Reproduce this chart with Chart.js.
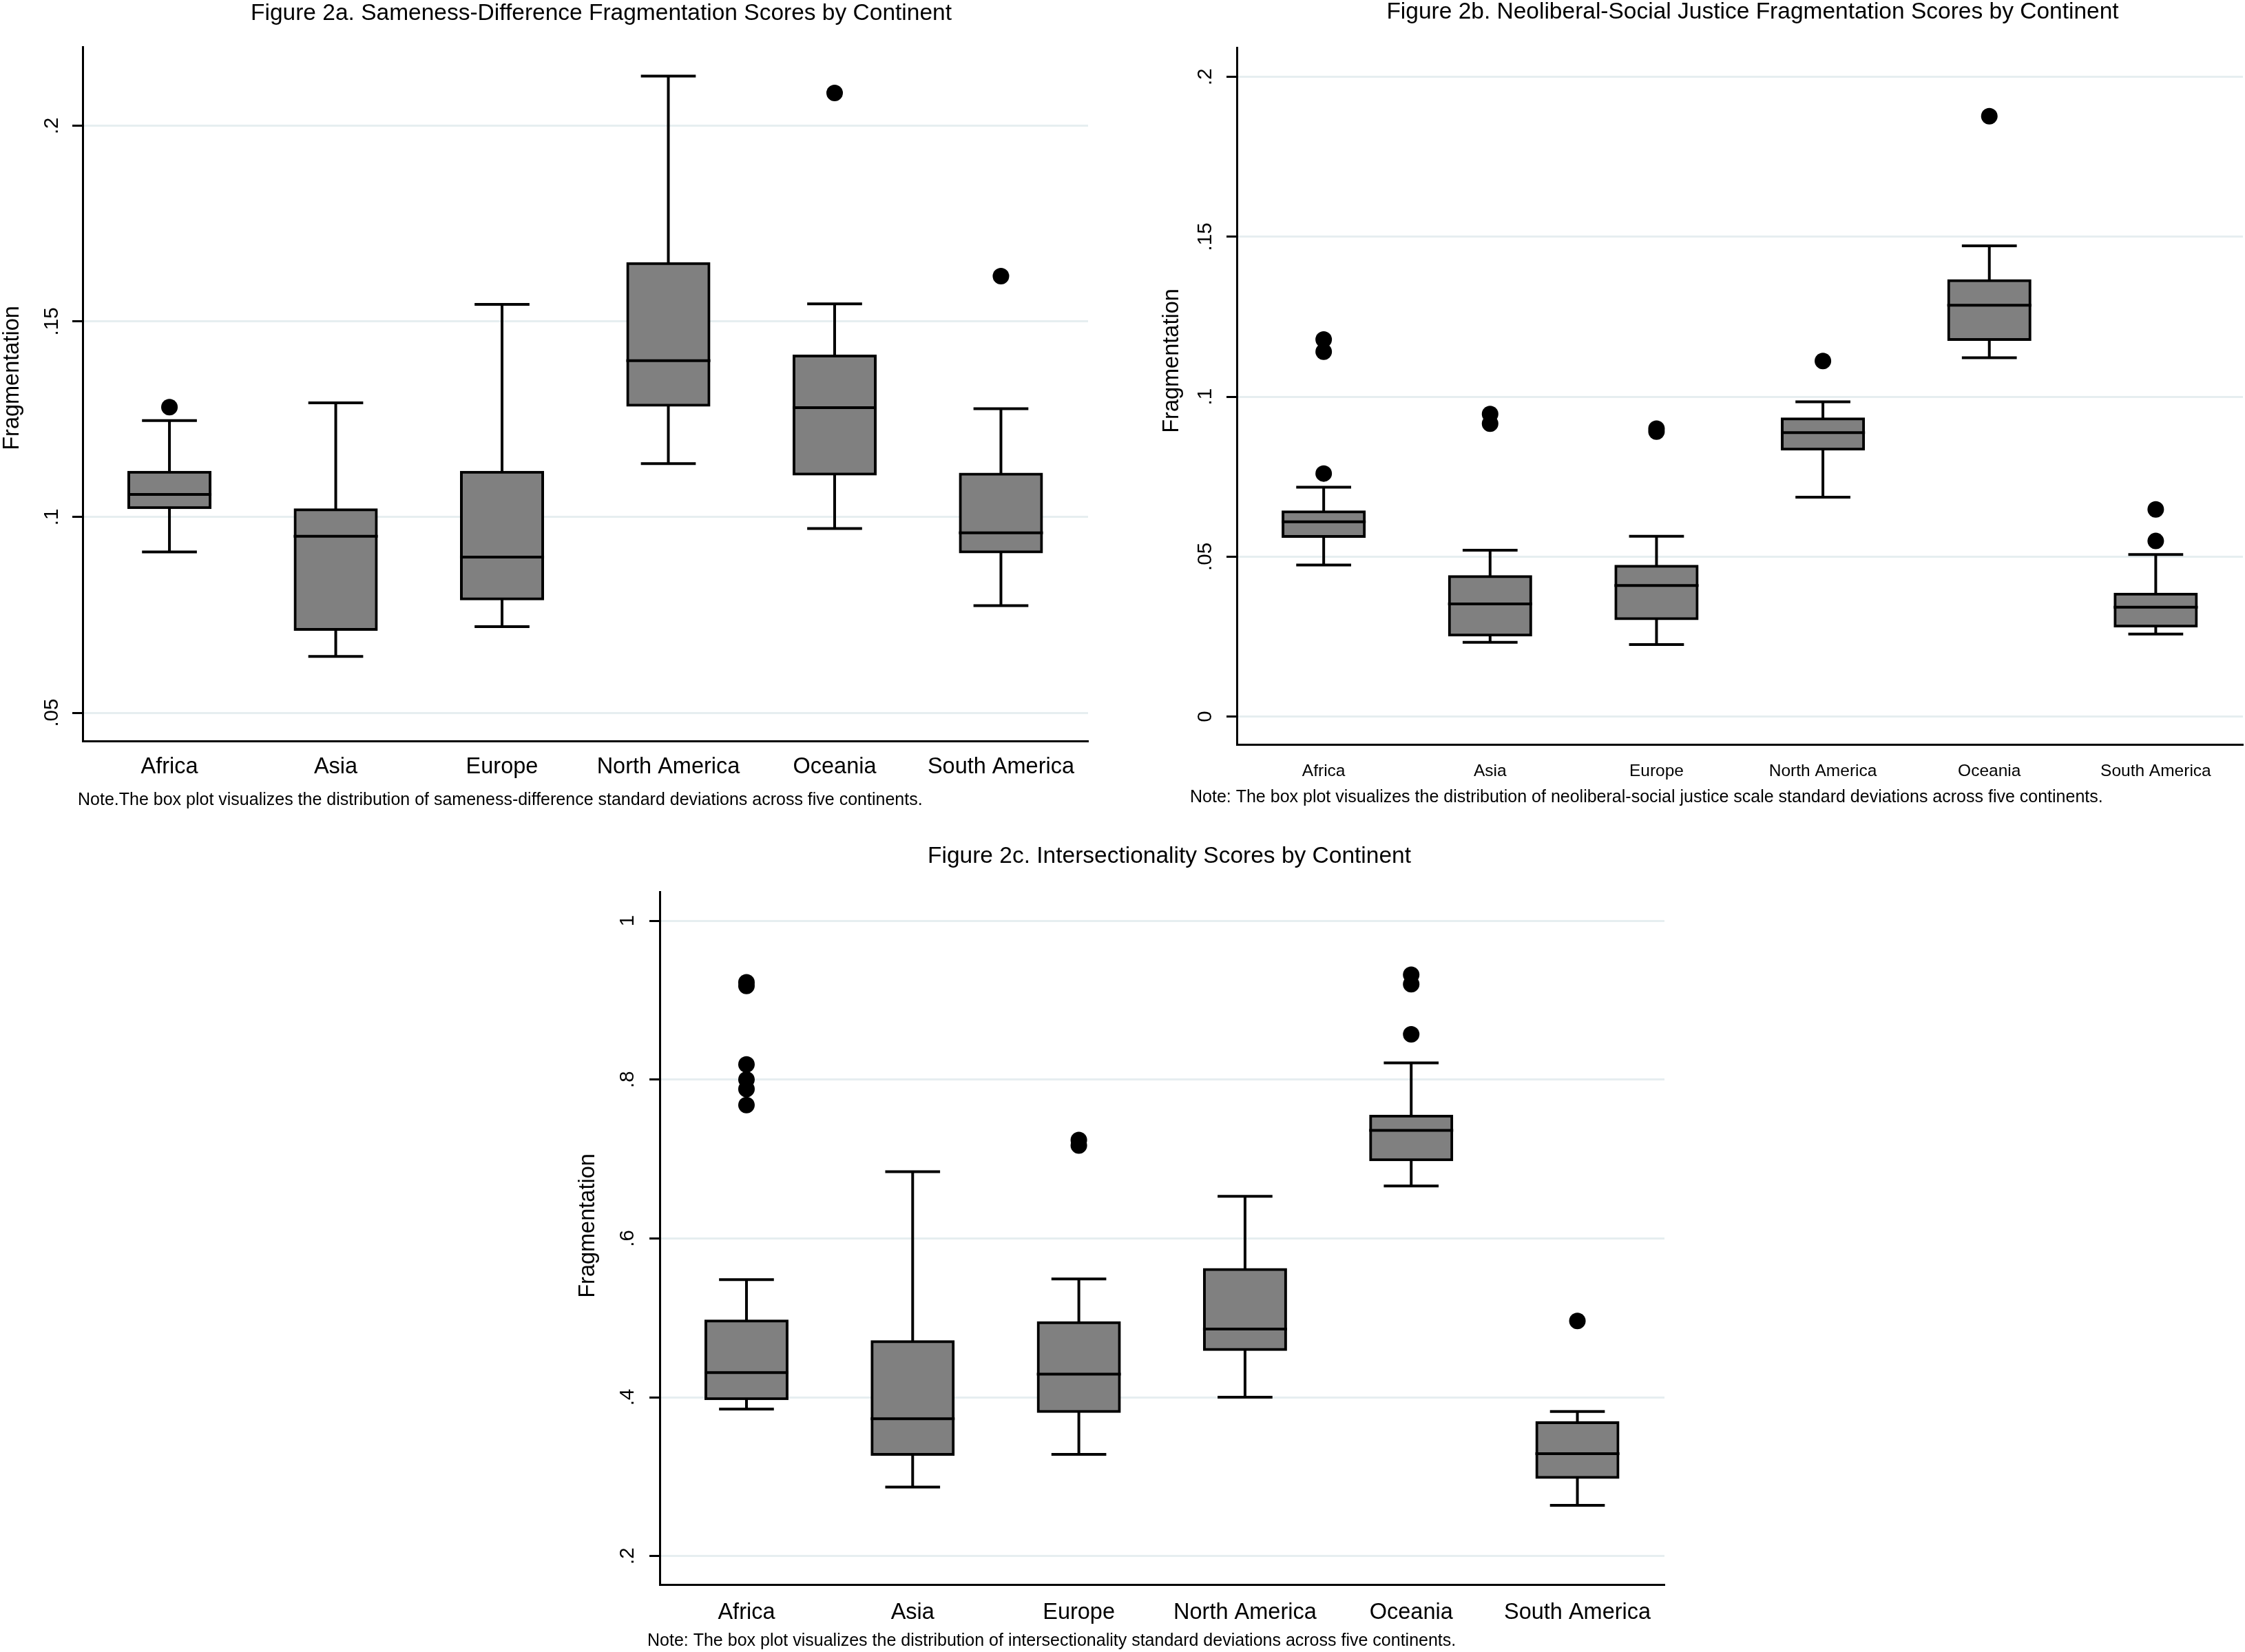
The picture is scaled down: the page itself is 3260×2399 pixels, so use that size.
<!DOCTYPE html>
<html>
<head>
<meta charset="utf-8">
<script src="https://cdn.jsdelivr.net/npm/chart.js@4.4.1/dist/chart.umd.min.js"></script>
<style>
html,body{margin:0;padding:0;background:#fff;overflow:hidden}
#page{position:relative;width:3260px;height:2399px;overflow:hidden;background:#fff}
#page canvas{position:absolute}
</style>
</head>
<body>
<div id="page">
<canvas id="fig2a"></canvas>
<canvas id="fig2b"></canvas>
<canvas id="fig2c"></canvas>
</div>
<script>
var continents=['Africa','Asia','Europe','North America','Oceania','South America'];
var groupRange=[-0.522,5.524];   // x extent in group units, as in the original plot region

// Figure 2a  sameness-difference
var sdLower=[0.0911,0.0644,0.0720,0.1137,0.0971,0.0774];
var sdQ1=[0.1024,0.0713,0.0791,0.1286,0.1110,0.0911];
var sdMedian=[0.1058,0.0951,0.0898,0.1400,0.1280,0.0960];
var sdQ3=[0.1115,0.1019,0.1115,0.1648,0.1412,0.1110];
var sdUpper=[0.1247,0.1292,0.1544,0.2127,0.1545,0.1277];
var sdOutliers=[[0.1281],[],[],[],[0.2084],[0.1616]];
var sdTicks=[0.05,0.1,0.15,0.2];
var sdTickLabels=['.05','.1','.15','.2'];
var sdRange=[0.0428,0.2202];

// Figure 2b  neoliberal-social justice
var nsLower=[0.0474,0.0232,0.0225,0.0686,0.1122,0.0258];
var nsQ1=[0.0563,0.0255,0.0306,0.0836,0.1179,0.0283];
var nsMedian=[0.0609,0.0352,0.0410,0.0888,0.1286,0.0342];
var nsQ3=[0.0640,0.0438,0.0470,0.0931,0.1363,0.0383];
var nsUpper=[0.0717,0.0520,0.0564,0.0984,0.1472,0.0507];
var nsOutliers=[[0.1179,0.1141,0.0760],[0.0946,0.0916],[0.0900,0.0891],[0.1112],[0.1877],[0.0648,0.0549]];
var nsTicks=[0,0.05,0.1,0.15,0.2];
var nsTickLabels=['0','.05','.1','.15','.2'];
var nsRange=[-0.0087,0.2092];

// Figure 2c  intersectionality
var inLower=[0.385,0.287,0.328,0.400,0.666,0.264];
var inQ1=[0.398,0.328,0.382,0.460,0.699,0.299];
var inMedian=[0.431,0.373,0.429,0.486,0.736,0.329];
var inQ3=[0.496,0.470,0.494,0.561,0.754,0.368];
var inUpper=[0.548,0.684,0.549,0.653,0.821,0.382];
var inOutliers=[[0.9225,0.918,0.819,0.800,0.788,0.768],[],[0.724,0.717],[],[0.932,0.920,0.857],[0.496]];
var inTicks=[0.2,0.4,0.6,0.8,1];
var inTickLabels=['.2','.4','.6','.8','1'];
var inRange=[0.1642,1.0365];

var FONT="'Liberation Sans', Arial, sans-serif";
Chart.defaults.font.family=FONT;
Chart.defaults.color='#000';

var BOX_PCT=0.489, CAP_PCT=0.33, LINE_W=4, TICK_LEN=15;

function drawBoxes(id,g,s){
  var cv=document.getElementById(id);
  var w=2*(g.titleX-g.x);               // title is centred on the canvas
  var h=Math.round(g.noteY-g.y+22);
  var lhT=g.titleFont*1.2, lhX=g.xFont*1.2;
  cv.width=w; cv.height=h;
  cv.style.left=g.x+'px'; cv.style.top=g.y+'px';

  var mctx=cv.getContext('2d');
  mctx.font=g.tickFont+'px '+FONT;
  var widest=Math.max.apply(null,s.tickLabels.map(function(t){return mctx.measureText(t).width;}));

  var boxes=s.q1.map(function(v,i){return {x:i,y:[v,s.q3[i]]};});
  var pts=[];
  s.outliers.forEach(function(arr,i){
    arr.forEach(function(v){pts.push({x:i,y:v});});
  });

  var boxLines={
    id:'boxLines',
    beforeDatasetsDraw:function(chart){
      var xs=chart.scales.x, ys=chart.scales.y, ctx=chart.ctx;
      var cw=xs.getPixelForValue(1)-xs.getPixelForValue(0);
      var hc=cw*CAP_PCT/2;
      ctx.save();
      ctx.strokeStyle='#000'; ctx.lineWidth=LINE_W;
      for(var i=0;i<s.median.length;i++){
        var cx=xs.getPixelForValue(i);
        var yu=ys.getPixelForValue(s.upper[i]), yl=ys.getPixelForValue(s.lower[i]);
        ctx.beginPath();
        ctx.moveTo(cx,yu); ctx.lineTo(cx,ys.getPixelForValue(s.q3[i]));
        ctx.moveTo(cx,ys.getPixelForValue(s.q1[i])); ctx.lineTo(cx,yl);
        ctx.moveTo(cx-hc,yu); ctx.lineTo(cx+hc,yu);
        ctx.moveTo(cx-hc,yl); ctx.lineTo(cx+hc,yl);
        ctx.stroke();
      }
      ctx.restore();
    },
    afterDatasetsDraw:function(chart){
      var xs=chart.scales.x, ys=chart.scales.y, ctx=chart.ctx;
      var cw=xs.getPixelForValue(1)-xs.getPixelForValue(0);
      var hb=cw*BOX_PCT/2+2;
      ctx.save();
      ctx.strokeStyle='#000'; ctx.lineWidth=LINE_W;
      for(var i=0;i<s.median.length;i++){
        var cx=xs.getPixelForValue(i), ym=ys.getPixelForValue(s.median[i]);
        ctx.beginPath();
        ctx.moveTo(cx-hb,ym); ctx.lineTo(cx+hb,ym);
        ctx.stroke();
      }
      ctx.restore();
    }
  };

  // note under the plot and the rotated axis title
  var texts={
    id:'texts',
    afterDraw:function(chart){
      var ctx=chart.ctx;
      ctx.save();
      ctx.fillStyle='#000';
      ctx.font=g.noteFont+'px '+FONT;
      ctx.textAlign='left'; ctx.textBaseline='middle';
      ctx.fillText(g.note,g.noteLeft-g.x,g.noteY-g.y);
      ctx.translate(g.yTitleX-g.x,g.yTitleY-g.y);
      ctx.rotate(-Math.PI/2);
      ctx.font=g.yTitleFont+'px '+FONT;
      ctx.textAlign='center';
      ctx.fillText('Fragmentation',0,0);
      ctx.restore();
    }
  };

  new Chart(cv,{
    type:'bar',
    data:{
      datasets:[
        {type:'bar',data:boxes,
         backgroundColor:'#808080',borderColor:'#000',borderWidth:LINE_W,borderSkipped:false,
         inflateAmount:2,barPercentage:BOX_PCT,categoryPercentage:1,order:2},
        {type:'scatter',data:pts,pointRadius:12,pointHoverRadius:12,
         backgroundColor:'#000',borderWidth:0,showLine:false,order:1}
      ]
    },
    options:{
      responsive:false,animation:false,devicePixelRatio:1,events:[],
      layout:{padding:0},
      plugins:{
        legend:{display:false},
        tooltip:{enabled:false},
        title:{display:true,text:g.title,align:'center',color:'#000',
          font:{size:g.titleFont,weight:'normal'},
          padding:{top:g.titleY-g.y-lhT/2,bottom:g.top-g.titleY-lhT/2}}
      },
      scales:{
        x:{type:'linear',offset:false,min:groupRange[0],max:groupRange[1],
          afterBuildTicks:function(sc){sc.ticks=continents.map(function(c,i){return {value:i};});},
          grid:{display:false},
          border:{display:true,color:'#000',width:3},
          ticks:{font:{size:g.xFont},color:'#000',maxRotation:0,minRotation:0,autoSkip:false,
            padding:g.labelY-g.bottom-lhX/2,
            callback:function(v,i){return continents[i];}},
          afterFit:function(sc){sc.height=h-(g.bottom-g.y);}
        },
        y:{type:'linear',position:'left',min:s.range[0],max:s.range[1],
          afterBuildTicks:function(sc){sc.ticks=s.ticks.map(function(v){return {value:v};});},
          grid:{color:'#e6eef0',lineWidth:3,drawTicks:true,tickLength:TICK_LEN,tickColor:'#000',tickWidth:3},
          border:{display:true,color:'#000',width:3},
          ticks:{font:{size:g.tickFont},color:'#000',minRotation:90,maxRotation:90,crossAlign:'center',
            autoSkip:false,padding:g.axisX-g.tickX-TICK_LEN-widest/2,
            callback:function(v,i){return s.tickLabels[i];}},
          afterFit:function(sc){sc.width=g.axisX-g.x;}
        },
        pad:{type:'linear',position:'right',display:true,
          grid:{display:false},border:{display:false},ticks:{display:false},
          afterFit:function(sc){sc.width=(g.x+w)-g.right;}
        }
      }
    },
    plugins:[boxLines,texts]
  });
}

drawBoxes('fig2a',{
  x:0,y:0,axisX:120,right:1580,top:68,bottom:1076,
  noteLeft:113,titleX:873,titleY:20,yTitleX:18,yTitleY:549,tickX:76,labelY:1106,noteY:1162,
  titleFont:33.5,noteFont:25,yTitleFont:32.5,tickFont:29.5,xFont:32.5,
  title:'Figure 2a. Sameness-Difference Fragmentation Scores by Continent',
  note:'Note.The box plot visualizes the distribution of sameness-difference standard deviations across five continents.'
},{lower:sdLower,q1:sdQ1,median:sdMedian,q3:sdQ3,upper:sdUpper,outliers:sdOutliers,
   ticks:sdTicks,tickLabels:sdTickLabels,range:sdRange});

drawBoxes('fig2b',{
  x:1640,y:0,axisX:1796,right:3257,top:69,bottom:1081,
  noteLeft:1728,titleX:2545,titleY:18,yTitleX:1702,yTitleY:524,tickX:1751,labelY:1112,noteY:1158,
  titleFont:33.5,noteFont:25,yTitleFont:32.5,tickFont:29.5,xFont:24.5,
  title:'Figure 2b. Neoliberal-Social Justice Fragmentation Scores by Continent',
  note:'Note: The box plot visualizes the distribution of neoliberal-social justice scale standard deviations across five continents.'
},{lower:nsLower,q1:nsQ1,median:nsMedian,q3:nsQ3,upper:nsUpper,outliers:nsOutliers,
   ticks:nsTicks,tickLabels:nsTickLabels,range:nsRange});

drawBoxes('fig2c',{
  x:800,y:1200,axisX:958,right:2417,top:1295,bottom:2301,
  noteLeft:940,titleX:1698,titleY:1244,yTitleX:854,yTitleY:1780,tickX:912,labelY:2334,noteY:2383,
  titleFont:33.5,noteFont:25,yTitleFont:32.5,tickFont:29.5,xFont:32.5,
  title:'Figure 2c. Intersectionality Scores by Continent',
  note:'Note: The box plot visualizes the distribution of intersectionality standard deviations across five continents.'
},{lower:inLower,q1:inQ1,median:inMedian,q3:inQ3,upper:inUpper,outliers:inOutliers,
   ticks:inTicks,tickLabels:inTickLabels,range:inRange});
</script>
</body>
</html>
